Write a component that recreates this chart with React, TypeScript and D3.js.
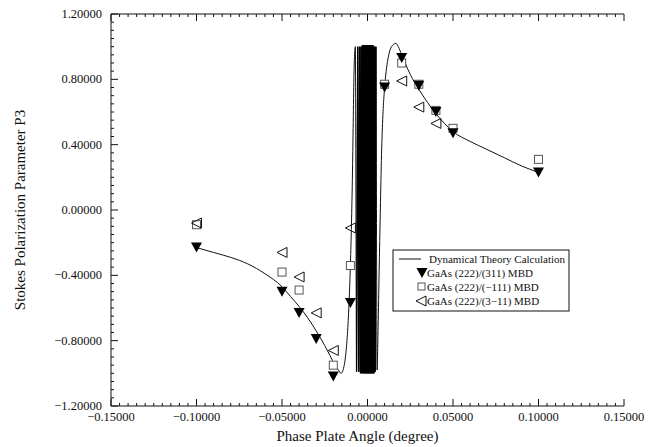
import * as d3 from 'd3';

const W = 662;
const H = 447;

// dynamical theory curve (left lobe, fast oscillation, right lobe)
const leftX = [-0.1, -0.09, -0.08, -0.07, -0.06, -0.05, -0.045, -0.04, -0.035, -0.03, -0.025, -0.022, -0.019, -0.017, -0.0154, -0.0138, -0.0125, -0.0115, -0.0106, -0.0099, -0.0093, -0.0088, -0.0084, -0.008, -0.0076, -0.0071];
const leftY = [-0.23, -0.26, -0.29, -0.33, -0.39, -0.47, -0.53, -0.59, -0.66, -0.74, -0.83, -0.89, -0.95, -0.98, -1.0, -0.96, -0.86, -0.72, -0.52, -0.3, -0.05, 0.22, 0.5, 0.78, 0.94, 1.0];

const bandX = [-0.0064, -0.0057, -0.0051, -0.0046, -0.0041, -0.0037, -0.0033, -0.003, -0.0027, -0.0025, -0.0023, -0.0021, -0.0019, -0.0017, -0.0015, -0.0013, -0.0011, -0.0009, -0.0007, -0.0005, -0.0003, -0.0001, 0.0001, 0.0003, 0.0005, 0.0007, 0.0009, 0.0011, 0.0013, 0.0015, 0.0017, 0.0019, 0.0021, 0.0023, 0.0025, 0.0027, 0.0029, 0.0031, 0.0033, 0.0035, 0.0038, 0.0041, 0.0045, 0.0049];
const bandY = [-0.99, 1.0, -0.99, 1.0, -1.0, 1.0, -1.0, 1.01, -1.0, 1.01, -1.0, 1.01, -1.0, 1.01, -1.0, 1.01, -1.0, 1.01, -1.0, 1.01, -1.0, 1.01, -1.0, 1.01, -1.0, 1.01, -1.0, 1.01, -1.0, 1.01, -1.0, 1.01, -1.0, 1.01, -1.0, 1.01, -1.0, 1.01, -1.0, 1.0, -1.0, 1.0, -0.99, 1.0];

const rightX = [0.0056, 0.0062, 0.0068, 0.0075, 0.0082, 0.009, 0.0098, 0.0106, 0.0117, 0.0132, 0.0148, 0.0166, 0.018, 0.02, 0.022, 0.025, 0.03, 0.035, 0.04, 0.045, 0.05, 0.06, 0.07, 0.08, 0.09, 0.1];
const rightY = [-0.98, -0.72, -0.38, 0.0, 0.34, 0.58, 0.72, 0.82, 0.91, 0.98, 1.01, 1.02, 1.0, 0.95, 0.9, 0.83, 0.74, 0.66, 0.59, 0.53, 0.48, 0.42, 0.37, 0.32, 0.27, 0.23];

// measured points
const ang311 = [-0.1, -0.05, -0.04, -0.03, -0.02, -0.01, 0.0, 0.01, 0.02, 0.03, 0.04, 0.05, 0.1];
const p3_311 = [-0.23, -0.5, -0.63, -0.79, -1.02, -0.57, 0.03, 0.75, 0.93, 0.76, 0.6, 0.47, 0.23];

const angM111 = [-0.1, -0.05, -0.04, -0.02, -0.01, 0.01, 0.02, 0.03, 0.04, 0.05, 0.1];
const p3_M111 = [-0.09, -0.38, -0.49, -0.95, -0.34, 0.77, 0.9, 0.77, 0.61, 0.5, 0.31];

const ang3M11 = [-0.1, -0.05, -0.04, -0.03, -0.02, -0.01, 0.02, 0.03, 0.04];
const p3_3M11 = [-0.08, -0.26, -0.41, -0.63, -0.86, -0.11, 0.79, 0.63, 0.53];

const xTicks = [-0.15, -0.1, -0.05, 0, 0.05, 0.1, 0.15];
const yTicks = [-1.2, -0.8, -0.4, 0, 0.4, 0.8, 1.2];

const legendLabels = [
  'Dynamical Theory Calculation',
  'GaAs (222)/(311) MBD',
  'GaAs (222)/(\u2212111) MBD',
  'GaAs (222)/(3\u221211) MBD',
];

const serif = '"Liberation Serif", "Times New Roman", serif';
const fmt = (v: number) => d3.format('.5f')(v).replace('-', '\u2212');

type Pt = [number, number];

export default function App() {
  const x = d3.scaleLinear().domain([-0.15, 0.15]).range([111, 624]);
  const y = d3.scaleLinear().domain([-1.2, 1.2]).range([406, 14]);

  const leftPts: Pt[] = leftX.map((v, i) => [v, leftY[i]]);
  const bandPts: Pt[] = bandX.map((v, i) => [v, bandY[i]]);
  const rightPts: Pt[] = rightX.map((v, i) => [v, rightY[i]]);
  const allPts = [...leftPts, ...bandPts, ...rightPts];

  const line = d3.line<Pt>()
    .x(d => x(d[0]))
    .y(d => y(d[1]))
    .curve(d3.curveMonotoneX);
  const band = d3.line<Pt>().x(d => x(d[0])).y(d => y(d[1]));

  const [x0, x1] = x.range();
  const [yb, yt] = y.range();

  // minor ticks
  const xMinor = d3.range(-0.15, 0.1501, 0.005);
  const yMinor = d3.range(-1.2, 1.2001, 0.05);

  const down = (cx: number, cy: number) => `M${cx - 5.5},${cy - 5}L${cx + 5.5},${cy - 5}L${cx},${cy + 5}Z`;
  const left = (cx: number, cy: number) => `M${cx - 5},${cy}L${cx + 5},${cy - 5}L${cx + 5},${cy + 5}Z`;

  const lg = { x: 393, y: 250, w: 176, h: 61 };
  const rowY = [lg.y + 9, lg.y + 23, lg.y + 37, lg.y + 51];

  return (
    <svg width={W} height={H} style={{ position: 'absolute', left: 0, top: 0, background: '#fff' }}
      fontFamily={serif}>
      {/* frame */}
      <g stroke="#111" strokeWidth={1} fill="none">
        <line x1={x0} x2={x0} y1={yt} y2={yb} />
        <line x1={x0} x2={x1} y1={yb} y2={yb} />
        <line x1={x0} x2={x1} y1={yt} y2={yt} />
      </g>
      <g stroke="#111" strokeWidth={1}>
        {xMinor.map((v, i) => {
          const major = Math.abs(Math.round(v / 0.05) * 0.05 - v) < 1e-6;
          const len = major ? 7 : 3;
          return (
            <g key={'xm' + i}>
              <line x1={x(v)} x2={x(v)} y1={yb} y2={yb - len} />
              <line x1={x(v)} x2={x(v)} y1={yt} y2={yt + len} />
            </g>
          );
        })}
        {yMinor.map((v, i) => {
          const major = Math.abs(Math.round(v / 0.4) * 0.4 - v) < 1e-6;
          return <line key={'ym' + i} x1={x0} x2={x0 + (major ? 7 : 3)} y1={y(v)} y2={y(v)} />;
        })}
      </g>

      {/* tick labels */}
      <g fontSize={12.5} fill="#111">
        {xTicks.map(v => (
          <text key={'xt' + v} x={x(v)} y={yb + 15} textAnchor="middle">{fmt(v)}</text>
        ))}
        {yTicks.map(v => (
          <text key={'yt' + v} x={x0 - 9} y={y(v) + 4} textAnchor="end">{fmt(v)}</text>
        ))}
      </g>
      <text x={(x0 + x1) / 2 - 10} y={441} textAnchor="middle" fontSize={15} fill="#111">
        Phase Plate Angle (degree)
      </text>
      <text transform={`translate(25,${(yt + yb) / 2}) rotate(-90)`} textAnchor="middle" fontSize={15} fill="#111">
        Stokes Polarization Parameter P3
      </text>

      {/* theory curve */}
      <path d={line(allPts) ?? ''} fill="none" stroke="#111" strokeWidth={1} />
      <path d={band(bandPts) ?? ''} fill="none" stroke="#000" strokeWidth={1.3} />

      {/* data */}
      <g fill="#fff" stroke="#555" strokeWidth={1}>
        {angM111.map((v, i) => (
          <rect key={'s' + i} x={x(v) - 4} y={y(p3_M111[i]) - 4} width={8} height={8} />
        ))}
      </g>
      <g fill="none" stroke="#111" strokeWidth={1}>
        {ang3M11.map((v, i) => (
          <path key={'l' + i} d={left(x(v), y(p3_3M11[i]))} />
        ))}
      </g>
      <g fill="#000">
        {ang311.map((v, i) => (
          <path key={'d' + i} d={down(x(v), y(p3_311[i]))} />
        ))}
      </g>

      {/* legend */}
      <rect x={lg.x} y={lg.y} width={lg.w} height={lg.h} fill="#fff" stroke="#111" strokeWidth={1} />
      <line x1={lg.x + 6} x2={lg.x + 28} y1={rowY[0]} y2={rowY[0]} stroke="#111" />
      <path d={down(lg.x + 29, rowY[1])} fill="#000" />
      <rect x={lg.x + 25} y={rowY[2] - 4} width={7} height={7} fill="none" stroke="#555" />
      <path d={left(lg.x + 28, rowY[3])} fill="none" stroke="#111" />
      <g fontSize={11} fill="#111">
        {legendLabels.map((t, i) => (
          <text key={t} x={i === 0 ? lg.x + 36 : lg.x + 34} y={rowY[i] + 4}>{t}</text>
        ))}
      </g>
    </svg>
  );
}
